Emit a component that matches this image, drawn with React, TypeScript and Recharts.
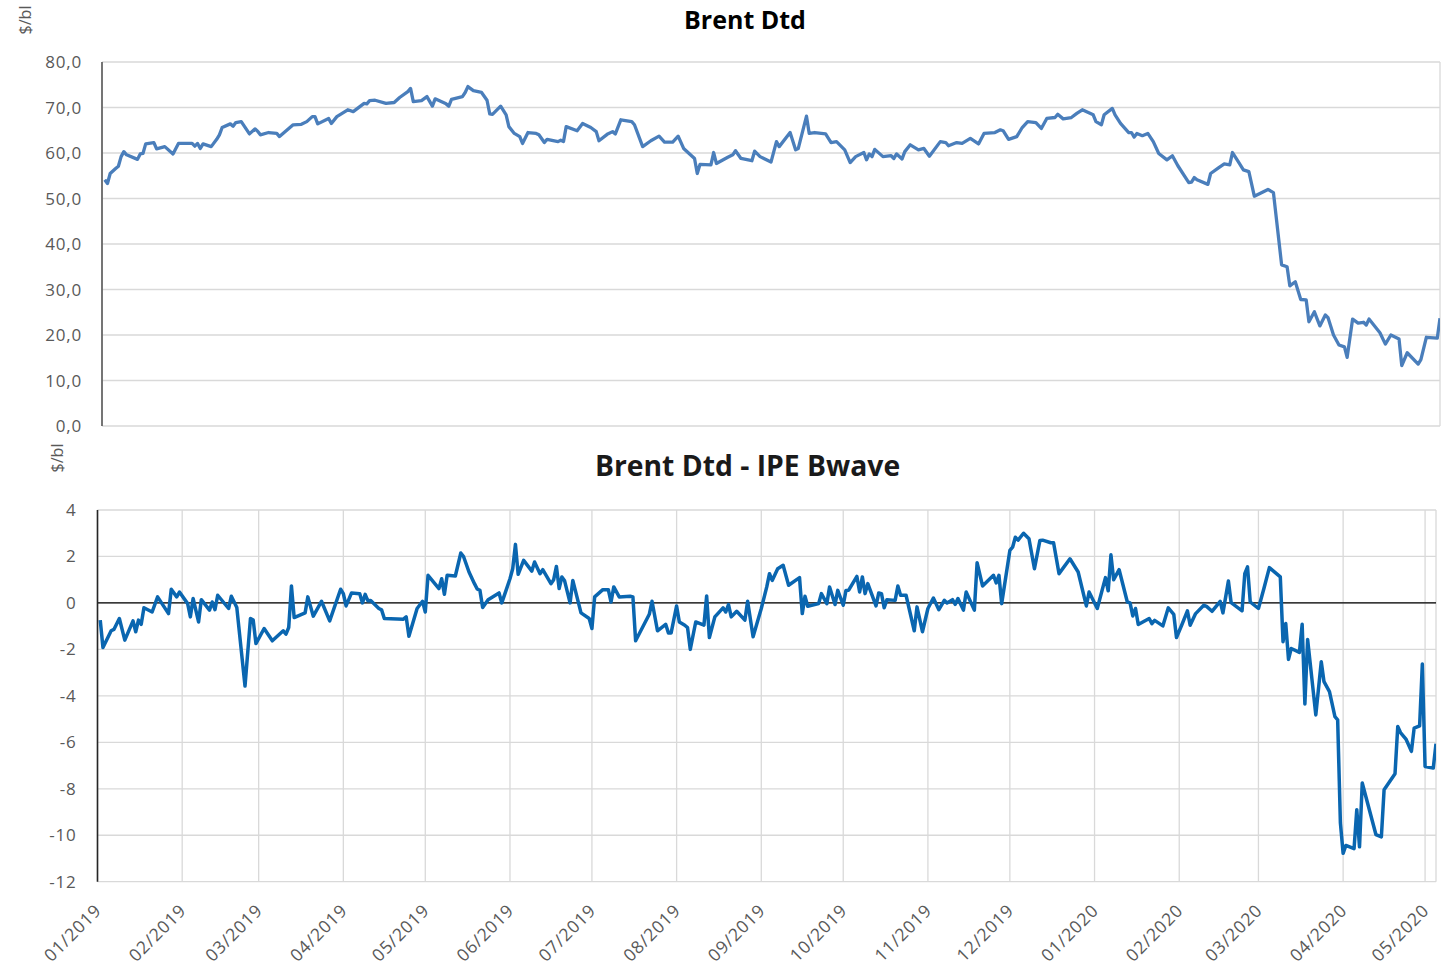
import React from "react";
import { LineChart, Line, XAxis, YAxis, CartesianGrid, ReferenceLine } from "recharts";

// Month tick labels (x axis categories)
const monthLabels = [
  "01/2019", "02/2019", "03/2019", "04/2019", "05/2019", "06/2019", "07/2019", "08/2019",
  "09/2019", "10/2019", "11/2019", "12/2019", "01/2020", "02/2020", "03/2020", "04/2020", "05/2020",
];

// Brent Dtd ($/bl): day offset from 2019-01-01 and value
const brentDay = [
  1, 2, 3, 5, 6, 7, 8, 9, 13, 14, 15, 16, 19, 20, 23, 26, 28, 33, 34, 35, 36, 37, 40, 42, 43, 44, 47, 48, 49, 51,
  54, 56, 57, 58, 61, 64, 65, 70, 73, 75, 77, 78, 79, 83, 84, 86, 90, 92, 96, 97, 98, 100, 104, 107, 109, 112, 113, 114, 117, 119,
  121, 122, 126, 127, 128, 132, 133, 134, 136, 139, 141, 142, 143, 146, 148, 149, 151, 153, 154, 156, 159, 160, 162, 163, 167, 168, 169, 170, 174, 176,
  179, 181, 182, 185, 187, 188, 190, 194, 195, 198, 201, 204, 206, 209, 211, 213, 217, 218, 219, 223, 224, 225, 229, 231, 232, 234, 238, 239, 241, 245,
  247, 248, 252, 254, 255, 258, 259, 261, 265, 267, 269, 272, 274, 276, 279, 280, 281, 282, 283, 286, 289, 290, 291, 293, 294, 296, 299, 301, 303, 307,
  309, 310, 313, 315, 318, 321, 323, 327, 329, 330, 332, 335, 337, 339, 342, 344, 346, 349, 350, 352, 355, 357, 359, 363, 364, 366, 367, 370, 371, 373,
  376, 377, 378, 379, 381, 383, 385, 387, 390, 392, 394, 398, 399, 400, 401, 405, 406, 409, 411, 413, 414, 416, 418, 420, 422, 427, 429, 432, 434, 435,
  437, 439, 441, 442, 444, 446, 448, 449, 451, 453, 455, 456, 458, 460, 462, 463, 464, 468, 470, 472, 475, 476, 478, 482, 483, 485, 489, 490,
];
const brentValue = [
  54.1, 53.3, 55.5, 56.6, 57.1, 59.2, 60.3, 59.6, 58.6, 59.8, 59.9, 62.0, 62.3, 60.9, 61.4, 59.8, 62.1, 62.1, 61.5, 62.1, 61.0, 62.0, 61.4, 63.0, 64.0, 65.6, 66.4, 65.9, 66.7, 66.9,
  64.2, 65.3, 64.8, 64.0, 64.5, 64.3, 63.6, 66.2, 66.3, 66.9, 68.0, 68.0, 66.4, 67.6, 66.5, 68.0, 69.5, 69.1, 70.9, 70.8, 71.5, 71.6, 70.9, 71.1, 72.2, 73.5, 74.2, 71.3, 71.5, 72.4,
  70.3, 71.9, 70.8, 70.3, 71.8, 72.4, 73.3, 74.6, 73.7, 73.3, 71.6, 68.6, 68.5, 70.3, 68.4, 65.8, 64.3, 63.6, 62.1, 64.5, 64.3, 64.0, 62.3, 63.0, 62.5, 62.8, 62.5, 65.8, 64.9, 66.5,
  65.6, 64.7, 62.7, 64.1, 64.7, 64.2, 67.3, 66.9, 66.2, 61.4, 62.7, 63.7, 62.4, 62.4, 63.7, 61.0, 58.8, 55.5, 57.5, 57.4, 60.1, 57.7, 59.0, 59.6, 60.5, 58.8, 58.3, 60.4, 59.2, 58.0,
  62.5, 61.4, 64.5, 60.7, 61.0, 68.1, 64.3, 64.5, 64.2, 62.3, 62.5, 60.7, 57.9, 59.2, 60.1, 58.5, 59.8, 59.2, 60.8, 59.2, 59.4, 58.8, 59.8, 58.7, 60.3, 61.8, 60.7, 61.0, 59.3, 62.5,
  62.3, 61.6, 62.3, 62.1, 63.2, 62.0, 64.3, 64.5, 65.1, 64.9, 63.0, 63.6, 65.6, 66.9, 66.7, 65.4, 67.6, 67.8, 68.5, 67.5, 67.8, 68.7, 69.5, 68.4, 66.9, 66.2, 68.4, 69.8, 68.4, 66.5,
  64.5, 64.5, 63.5, 64.3, 63.8, 64.3, 62.5, 59.9, 58.5, 59.4, 57.2, 53.5, 53.6, 54.6, 54.1, 53.1, 55.5, 56.8, 57.6, 57.4, 60.1, 58.2, 56.3, 55.9, 50.5, 52.0, 51.3, 35.4, 35.0, 30.8,
  31.7, 27.8, 27.7, 22.9, 25.1, 22.0, 24.4, 23.8, 20.0, 17.8, 17.4, 15.1, 23.5, 22.6, 22.8, 22.2, 23.5, 20.5, 18.0, 20.0, 19.1, 13.3, 16.1, 13.6, 14.6, 19.5, 19.3, 23.7,
];

// Brent Dtd - IPE Bwave ($/bl): day offset from 2019-01-01 and value
const spreadDay = [
  1, 2, 5, 6, 8, 10, 13, 14, 15, 16, 17, 20, 22, 26, 27, 29, 30, 33, 34, 35, 37, 38, 41, 42, 43, 44, 48, 49, 51, 54,
  56, 57, 58, 61, 64, 68, 69, 70, 71, 72, 76, 77, 79, 82, 85, 89, 90, 91, 93, 96, 97, 98, 99, 100, 103, 104, 105, 112, 113, 114,
  117, 119, 120, 121, 125, 126, 127, 128, 131, 133, 134, 136, 138, 139, 140, 141, 143, 147, 148, 151, 152, 153, 154, 156, 159, 160, 162, 163, 166, 167,
  168, 169, 170, 171, 173, 174, 177, 180, 181, 182, 185, 187, 188, 189, 191, 195, 196, 197, 202, 203, 205, 208, 209, 210, 212, 213, 215, 216, 217, 219,
  222, 223, 224, 226, 229, 230, 231, 232, 234, 237, 238, 240, 243, 245, 246, 247, 249, 251, 253, 257, 258, 259, 260, 264, 265, 267, 268, 270, 271, 273,
  274, 275, 278, 279, 280, 281, 282, 285, 286, 287, 288, 289, 292, 293, 294, 296, 299, 300, 302, 304, 306, 308, 310, 311, 313, 314, 315, 317, 318, 321,
  322, 324, 328, 329, 330, 331, 334, 335, 336, 337, 339, 341, 343, 345, 346, 349, 350, 352, 356, 359, 362, 363, 366, 369, 370, 371, 372, 374, 377, 378,
  379, 380, 381, 385, 386, 387, 390, 392, 394, 395, 397, 399, 400, 402, 405, 406, 408, 411, 412, 414, 415, 419, 420, 421, 422, 425, 427, 429, 433, 434,
  435, 436, 437, 440, 441, 442, 443, 446, 448, 449, 451, 453, 454, 455, 456, 457, 460, 461, 462, 463, 468, 470, 471, 475, 476, 477, 479, 481, 482, 484,
  485, 486, 489, 490,
];
const spreadValue = [
  -0.74, -1.92, -1.2, -1.14, -0.67, -1.6, -0.77, -1.24, -0.74, -0.92, -0.21, -0.39, 0.26, -0.46, 0.59, 0.26, 0.47, -0.03, -0.6, 0.19, -0.82, 0.14, -0.31, 0.04, -0.29, 0.33, -0.24, 0.29, -0.2, -3.58,
  -0.67, -0.74, -1.75, -1.1, -1.63, -1.2, -1.34, -1.06, 0.73, -0.63, -0.43, 0.26, -0.57, 0.07, -0.77, 0.59, 0.4, -0.13, 0.43, 0.4, 0.0, 0.37, 0.09, 0.1, -0.24, -0.3, -0.67, -0.7, -0.6, -1.43,
  -0.24, 0.07, -0.39, 1.19, 0.62, 1.04, 0.37, 1.19, 1.16, 2.15, 2.0, 1.33, 0.83, 0.6, 0.54, -0.2, 0.14, 0.43, 0.0, 1.04, 1.47, 2.52, 1.23, 1.83, 1.37, 1.76, 1.26, 1.43, 0.83, 1.0,
  1.57, 0.62, 1.12, 0.95, 0.0, 0.97, -0.43, -0.67, -1.1, 0.26, 0.57, 0.57, 0.04, 0.69, 0.26, 0.29, 0.26, -1.63, -0.49, 0.07, -1.2, -0.92, -1.29, -1.29, -0.13, -0.82, -0.96, -1.06, -2.0, -0.82,
  -0.96, 0.3, -1.49, -0.6, -0.21, -0.39, -0.07, -0.6, -0.36, -0.74, 0.07, -1.46, -0.24, 0.69, 1.26, 0.97, 1.47, 1.62, 0.76, 1.09, -0.46, 0.29, -0.14, -0.03, 0.4, -0.03, 0.69, -0.07, 0.54, -0.1,
  0.54, 0.55, 1.14, 0.47, 1.12, 0.4, 0.83, -0.13, 0.43, 0.4, -0.21, 0.14, 0.11, 0.73, 0.33, 0.33, -1.2, -0.17, -1.24, -0.24, 0.21, -0.29, 0.11, 0.0, 0.14, -0.06, 0.19, -0.31, 0.47, -0.31,
  1.73, 0.73, 1.19, 0.86, 1.19, -0.03, 2.26, 2.4, 2.83, 2.7, 3.0, 2.76, 1.47, 2.69, 2.7, 2.59, 2.59, 1.26, 1.9, 1.33, -0.13, 0.47, -0.24, 1.09, 0.52, 2.07, 1.0, 1.43, 0.04, 0.0,
  -0.56, -0.24, -0.93, -0.67, -0.89, -0.75, -0.99, -0.21, -0.49, -1.49, -0.93, -0.34, -0.96, -0.46, -0.1, -0.15, -0.36, 0.07, -0.43, 0.94, 0.01, -0.34, 1.26, 1.55, 0.04, -0.24, 0.62, 1.52, 1.12, -1.67,
  -0.89, -2.43, -1.96, -2.13, -0.92, -4.35, -1.57, -4.82, -2.53, -3.39, -3.82, -4.89, -5.03, -9.47, -10.78, -10.44, -10.58, -8.9, -10.5, -7.75, -9.97, -10.07, -8.04, -7.35, -5.32, -5.58, -5.86, -6.39, -5.39, -5.29,
  -2.63, -7.04, -7.11, -6.06,
];

const brentTicks = [0, 10, 20, 30, 40, 50, 60, 70, 80];
const spreadTicks = [-12, -10, -8, -6, -4, -2, 0, 2, 4];

const START = Date.UTC(2019, 0, 1);
const DAY_MS = 86400000;
const monthTicks = monthLabels.map((l) => {
  const [m, y] = l.split("/").map(Number);
  return Math.round((Date.UTC(y, m - 1, 1) - START) / DAY_MS);
});
const labelOf = (d: number) => monthLabels[monthTicks.indexOf(d)] ?? "";

const brentData = brentDay.map((d, i) => ({ day: d, value: brentValue[i] }));
const spreadData = spreadDay.map((d, i) => ({ day: d, value: spreadValue[i] }));

const FONT = "'Open Sans', 'Noto Sans', sans-serif";
const TICK_COLOR = "#595959";
const X_DOMAIN: [number, number] = [0, 490];

const RotatedTick = (props: any) => {
  const { x, y, payload } = props;
  const ax = x + 5;
  const ay = y + 30;
  return (
    <text
      x={ax}
      y={ay}
      transform={`rotate(-45 ${ax} ${ay})`}
      textAnchor="end"
      fill={TICK_COLOR}
      fontSize={17.5}
      letterSpacing={0.8}
      fontFamily={FONT}
    >
      {labelOf(payload.value)}
    </text>
  );
};

export default function App() {
  return (
    <div style={{ position: "absolute", left: 0, top: 0, width: 1447, height: 965, background: "#fff" }}>
      <div style={{ position: "absolute", left: 0, top: 0 }}>
        <LineChart width={1447} height={440} data={brentData} margin={{ top: 62, right: 7, bottom: 14, left: 0 }}>
          <CartesianGrid stroke="#d9d9d9" strokeWidth={1.3} />
          <XAxis
            type="number"
            dataKey="day"
            domain={X_DOMAIN}
            ticks={monthTicks}
            allowDataOverflow
            tick={false}
            tickLine={false}
            height={0}
            axisLine={{ stroke: "#595959", strokeWidth: 1.6 }}
          />
          <YAxis
            type="number"
            domain={[0, 80]}
            ticks={brentTicks}
            width={102}
            tickLine={false}
            tickSize={0}
            tickMargin={20}
            axisLine={{ stroke: "#595959", strokeWidth: 1.6 }}
            tickFormatter={(v: number) => v.toFixed(1).replace(".", ",")}
            tick={{ fill: TICK_COLOR, fontSize: 17, fontFamily: FONT, letterSpacing: 0.8 }}
          />
          <Line
            type="linear"
            dataKey="value"
            stroke="#4A7EBB"
            strokeWidth={3.3}
            dot={false}
            strokeLinejoin="round"
            isAnimationActive={false}
          />
        </LineChart>
      </div>
      <div style={{ position: "absolute", left: 0, top: 440 }}>
        <LineChart width={1447} height={525} data={spreadData} margin={{ top: 70, right: 11, bottom: 0, left: 0 }}>
          <CartesianGrid stroke="#d9d9d9" strokeWidth={1.3} />
          <XAxis
            type="number"
            dataKey="day"
            domain={X_DOMAIN}
            ticks={monthTicks}
            allowDataOverflow
            tickLine={false}
            tickSize={0}
            tickMargin={0}
            axisLine={false}
            height={83.3}
            interval={0}
            tick={<RotatedTick />}
          />
          <YAxis
            type="number"
            domain={[-12, 4]}
            ticks={spreadTicks}
            width={97.5}
            tickLine={false}
            tickSize={0}
            tickMargin={21}
            axisLine={{ stroke: "#262626", strokeWidth: 1.6 }}
            tick={{ fill: TICK_COLOR, fontSize: 17, fontFamily: FONT, letterSpacing: 0.8 }}
          />
          <ReferenceLine y={0} stroke="#000" strokeWidth={1.3} />
          <Line
            type="linear"
            dataKey="value"
            stroke="#0A66B0"
            strokeWidth={3.5}
            dot={false}
            strokeLinejoin="round"
            isAnimationActive={false}
          />
        </LineChart>
      </div>
      <svg
        width={1447}
        height={965}
        style={{ position: "absolute", left: 0, top: 0, pointerEvents: "none" }}
      >
        <text x={745} y={29} textAnchor="middle" fontSize={25} fontWeight={700} fontFamily={FONT} fill="#000">
          Brent Dtd
        </text>
        <text x={747.5} y={476} textAnchor="middle" fontSize={28.3} fontWeight={700} fontFamily={FONT} fill="#1a1a1a">
          Brent Dtd - IPE Bwave
        </text>
        <text transform="translate(31,20) rotate(-90)" textAnchor="middle" fontSize={16} fontFamily={FONT} fill={TICK_COLOR}>
          $/bl
        </text>
        <text transform="translate(63,458) rotate(-90)" textAnchor="middle" fontSize={16} fontFamily={FONT} fill={TICK_COLOR}>
          $/bl
        </text>
      </svg>
    </div>
  );
}
